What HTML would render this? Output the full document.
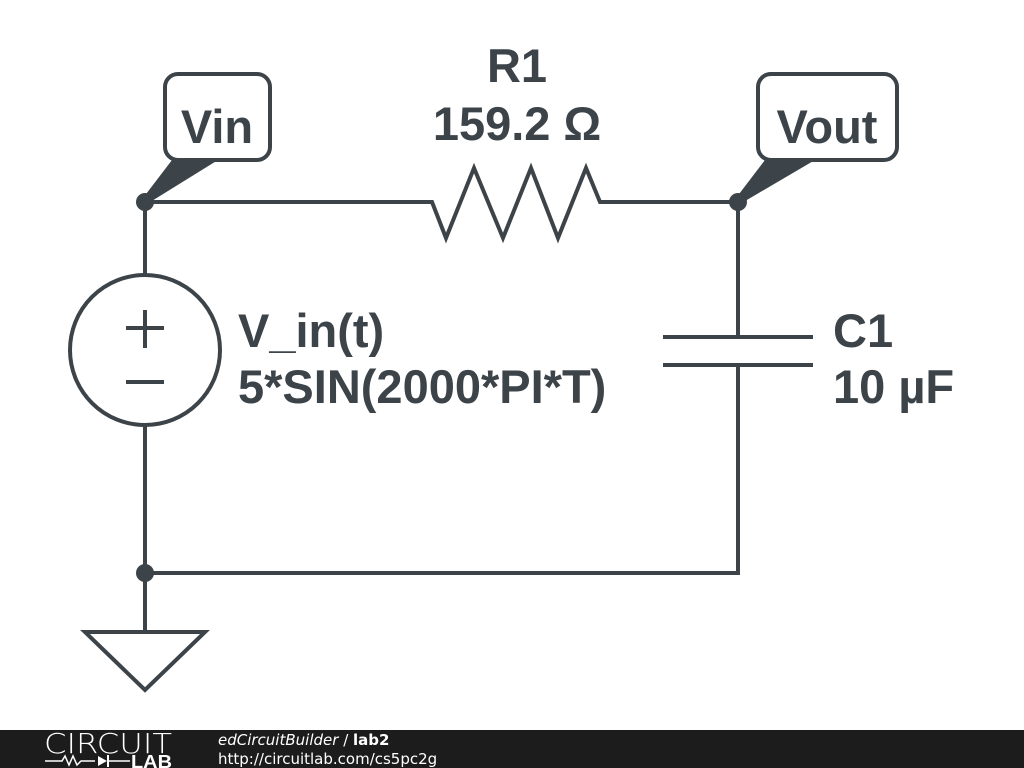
<!DOCTYPE html>
<html><head><style>
body{margin:0;width:1024px;height:768px;background:#fff;overflow:hidden;position:relative;font-family:"Liberation Sans","DejaVu Sans",sans-serif}
</style></head><body>
<svg width="1024" height="768" style="position:absolute;left:0;top:0">
<g stroke="#3d4449" stroke-width="4" fill="none" stroke-linejoin="miter">
<polyline points="145,202 432,202 446,238 474,168 503,238 531,168 558,238 586,168 600,202 738,202 738,337"/>
<line x1="663" y1="337" x2="813" y2="337"/>
<line x1="663" y1="365" x2="813" y2="365"/>
<polyline points="738,365 738,573 145,573"/>
<line x1="145" y1="202" x2="145" y2="275"/>
<line x1="145" y1="425" x2="145" y2="632"/>
<circle cx="145" cy="350" r="75"/>
<polygon points="85,632 205,632 145,690"/>
<line x1="145" y1="310" x2="145" y2="348"/>
<line x1="126" y1="328" x2="164" y2="328"/>
<line x1="126" y1="382" x2="164" y2="382"/>
<rect x="165" y="74" width="105" height="86" rx="13"/>
<rect x="758" y="74" width="139" height="86" rx="13"/>
</g>
<g fill="#3d4449">
<polygon points="172,160 218,160 147,204 143,198"/>
<polygon points="765,160 815,160 740,204 736,198"/>
<circle cx="145" cy="202" r="9"/>
<circle cx="738" cy="202" r="9"/>
<circle cx="145" cy="573" r="9"/>
</g>
<g fill="#3d4449" font-family="Liberation Sans, sans-serif" font-weight="bold" font-size="47">
<text x="217" y="143" text-anchor="middle">Vin</text>
<text x="827" y="143" text-anchor="middle">Vout</text>
<text x="517" y="82" text-anchor="middle">R1</text>
<text x="517" y="140" text-anchor="middle">159.2 Ω</text>
<text x="238" y="347">V_in(t)</text>
<text x="238" y="403">5*SIN(2000*PI*T)</text>
<text x="833" y="347">C1</text>
<text x="833" y="403">10 µF</text>
</g>
<rect x="0" y="730" width="1024" height="38" fill="#1c1c1c"/>
<text x="44" y="753" fill="#fff" font-size="28" font-family="DejaVu Sans, sans-serif" font-weight="200" textLength="128" lengthAdjust="spacingAndGlyphs">CIRCUIT</text>
<polyline points="45,761 62,761 65,756 69,765 73,756 77,765 81,761 95,761" stroke="#fff" stroke-width="1.5" fill="none"/>
<polygon points="98,756 98,766 107,761" fill="#fff"/>
<line x1="108" y1="755" x2="108" y2="767" stroke="#fff" stroke-width="2"/>
<line x1="108" y1="761" x2="130" y2="761" stroke="#fff" stroke-width="1.5"/>
<text x="131" y="768" fill="#fff" font-size="18" font-weight="bold" font-family="Liberation Sans, sans-serif" textLength="41" lengthAdjust="spacingAndGlyphs">LAB</text>
<text x="218" y="745" fill="#fff" font-size="15" font-family="DejaVu Sans, sans-serif"><tspan font-style="italic">edCircuitBuilder</tspan> / <tspan font-weight="bold">lab2</tspan></text>
<text x="218" y="764" fill="#fff" font-size="15" font-family="DejaVu Sans, sans-serif">http://circuitlab.com/cs5pc2g</text>
</svg>
</body></html>
